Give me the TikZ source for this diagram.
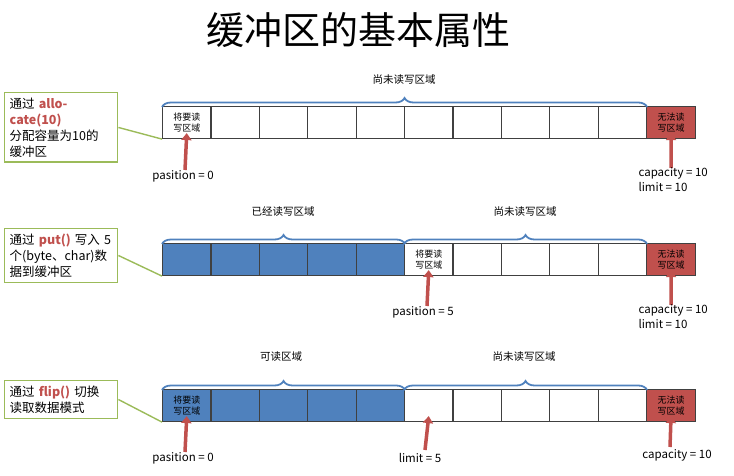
\documentclass[tikz,border=0pt]{standalone}
\usepackage{fontspec}
\setmainfont{Noto Sans CJK SC}
\usetikzlibrary{decorations.pathreplacing,arrows.meta}
\definecolor{bblue}{HTML}{4F81BD}
\definecolor{rred}{HTML}{C0504D}
\definecolor{gbox}{HTML}{9BBB59}
\definecolor{arr}{HTML}{C0504D}
\tikzset{
 x=1pt,y=-1pt,
 cellbox/.style={draw=black!75,line width=1.1pt,minimum width=48.4pt,minimum height=32pt,inner sep=0pt,anchor=north west,font=\fontsize{9}{11}\selectfont,align=center},
 full/.style={cellbox,fill=bblue},
 endcell/.style={cellbox,fill=rred,minimum width=49pt},
 brc/.style={draw=bblue,line width=1.8pt,decorate,decoration={brace,amplitude=9pt}},
 lbl/.style={font=\fontsize{10.5}{12}\selectfont},
 note/.style={draw=gbox,line width=1.4pt,anchor=north west,align=left,font=\fontsize{12.5}{16}\selectfont,inner sep=5pt,text width=103pt},
 link/.style={draw=gbox,line width=1.4pt},
 uparr/.style={draw=arr,line width=3.5pt,-{Triangle[length=7pt,width=10pt]}},
 val/.style={font=\fontsize{11.5}{15}\selectfont,align=left}
}
\begin{document}
\begin{tikzpicture}
\useasboundingbox (0,0) rectangle (734,476);
\node[font=\fontsize{38}{42}\selectfont] (title) at (358,30) {缓冲区的基本属性};
% row 1
\foreach \i in {0,...,9}{\node[cellbox] (a\i) at ({162+48.4*\i},106) {};}
\node[cellbox] at (a0.north west) {将要读\\写区域};
\node[endcell] (ae) at (646,106) {无法读\\写区域};
\draw[brc] ([yshift=-1pt]a0.north west) -- ([yshift=-1pt]a9.north east);
\node[lbl] (l1) at (404,80) {尚未读写区域};
\node[note] (n1) at (4,92) {通过 {\color{rred}\bfseries allocate(10)}\\分配容量为10的\\缓冲区};
\draw[link] (n1.east) -- (a0.south west);
\coordinate (p1) at (185,170);
\draw[uparr] (p1) -- ([yshift=6pt]a0.south);
\node[val] (t1) at (183,176) {pasition = 0};
\coordinate (c1) at (671,168);
\draw[uparr] (c1) -- ([yshift=6pt]ae.south);
\node[val,anchor=north west] (t1b) at (635,164) {capacity = 10\\limit = 10};
% row 2
\foreach \i in {0,...,9}{\node[cellbox] (b\i) at ({162+48.4*\i},243) {};}
\foreach \i in {0,...,4}{\node[full] at (b\i.north west) {};}
\node[cellbox] at (b5.north west) {将要读\\写区域};
\node[endcell] (be) at (646,243) {无法读\\写区域};
\draw[brc] ([yshift=-1pt]b0.north west) -- ([yshift=-1pt]b4.north east);
\draw[brc] ([yshift=-1pt]b5.north west) -- ([yshift=-1pt]b9.north east);
\node[lbl] (l2) at (283,212) {已经读写区域};
\node[lbl] (l3) at (525,212) {尚未读写区域};
\node[note] (n2) at (4,228) {通过 {\color{rred}\bfseries put()} 写入 5\\个(byte、char)数\\据到缓冲区};
\draw[link] (n2.east) -- (b0.south west);
\coordinate (p2) at (427,306);
\draw[uparr] (p2) -- ([yshift=6pt]b5.south);
\node[val] (t2) at (423,312) {pasition = 5};
\coordinate (c2) at (671,305);
\draw[uparr] (c2) -- ([yshift=6pt]be.south);
\node[val,anchor=north west] (t2b) at (635,301) {capacity = 10\\limit = 10};
% row 3
\foreach \i in {0,...,9}{\node[cellbox] (c\i) at ({162+48.4*\i},389) {};}
\foreach \i in {0,...,4}{\node[full] at (c\i.north west) {};}
\node[full] at (c0.north west) {将要读\\写区域};
\node[endcell] (ce) at (646,389) {无法读\\写区域};
\draw[brc] ([yshift=-1pt]c0.north west) -- ([yshift=-1pt]c4.north east);
\draw[brc] ([yshift=-1pt]c5.north west) -- ([yshift=-1pt]c9.north east);
\node[lbl] (l4) at (281,357) {可读区域};
\node[lbl] (l5) at (524,357) {尚未读写区域};
\node[note] (n3) at (4,380) {通过 {\color{rred}\bfseries flip()} 切换\\读取数据模式};
\draw[link] (n3.east) -- (c0.south west);
\coordinate (p3) at (185,452);
\draw[uparr] (p3) -- ([yshift=6pt]c0.south);
\node[val] (t3) at (183,458) {pasition = 0};
\coordinate (q3) at (425,450);
\draw[uparr] (q3) -- ([yshift=6pt]c5.south);
\node[val] (t4) at (420,458) {limit = 5};
\coordinate (c3) at (670,447);
\draw[uparr] (c3) -- ([yshift=6pt]ce.south);
\node[val] (t5) at (677,455) {capacity = 10};
\end{tikzpicture}
\end{document}
